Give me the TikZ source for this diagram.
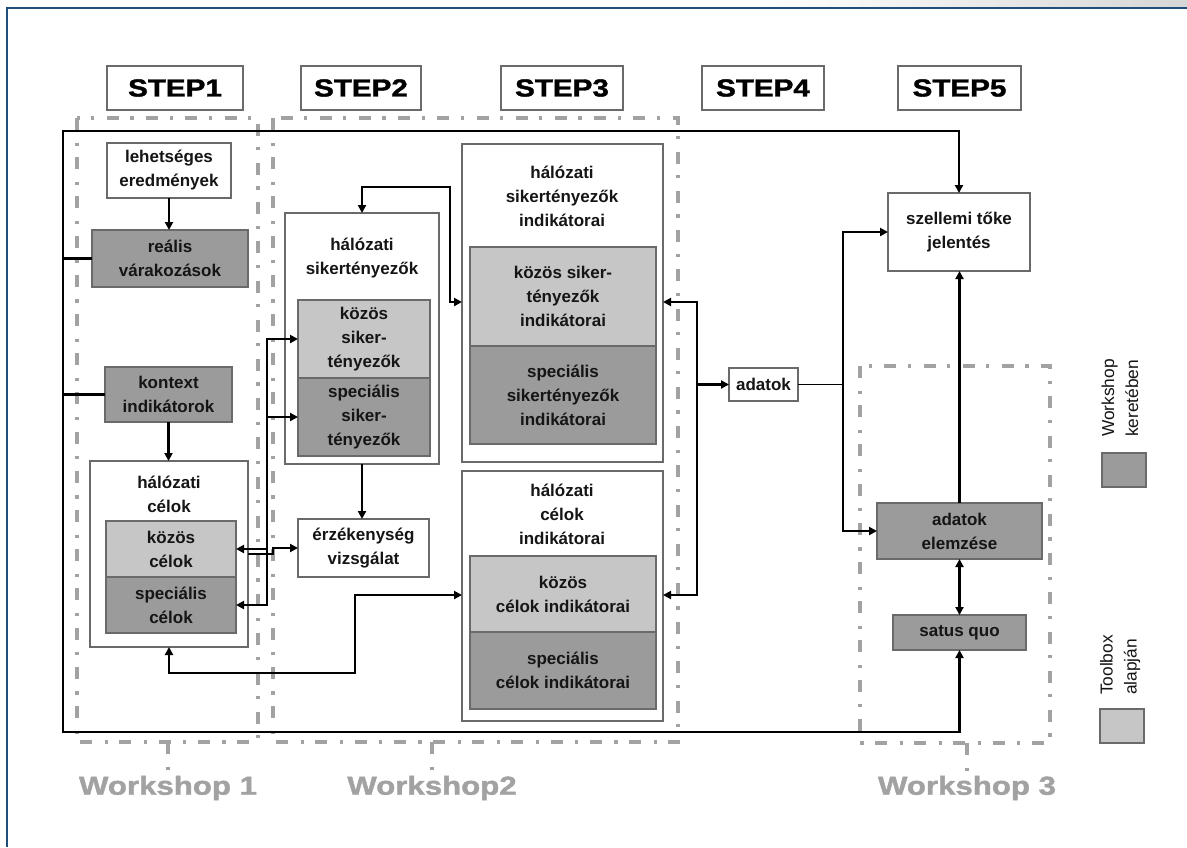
\documentclass[tikz,border=0pt]{standalone}
\usepackage{fontspec}
\setmainfont{Liberation Sans}
\newfontfamily\heavyfont{Liberation Sans}[FakeBold=1.5,FakeStretch=1.2]
\usetikzlibrary{arrows.meta}
\definecolor{frameblue}{HTML}{1E4E7C}
\definecolor{boxline}{HTML}{6A6A6A}
\definecolor{dk}{HTML}{9B9B9B}
\definecolor{lt}{HTML}{C6C6C6}
\definecolor{wsgray}{HTML}{A2A2A2}
\definecolor{txt}{HTML}{151515}
\begin{document}
\begin{tikzpicture}[x=0.75pt,y=-0.75pt,
  corners/.style n args={4}{at={({(#1+#3)/2},{(#2+#4)/2})},
    minimum width={(#3-#1)*0.75pt}, minimum height={(#4-#2)*0.75pt}},
  bx/.style={draw=boxline, line width=1pt, inner sep=0pt, outer sep=0pt, align=center, text=txt,
    font=\fontsize{12.75}{18}\selectfont\bfseries},
  wbox/.style={bx, fill=white},
  lbox/.style={bx, fill=lt},
  dbox/.style={bx, fill=dk},
  ttl/.style={align=center, text=txt, inner sep=0pt, font=\fontsize{12.75}{18}\selectfont\bfseries},
  stepbox/.style={draw=boxline, line width=1pt, inner sep=0pt, outer sep=0pt, fill=white, text=black,
    font=\heavyfont\bfseries\fontsize{18.5}{20}\selectfont},
  wslabel/.style={text=wsgray, inner sep=0pt, font=\heavyfont\bfseries\fontsize{19.5}{22}\selectfont},
  legtext/.style={align=left, text=txt, inner sep=0pt, font=\fontsize{13}{18}\selectfont},
  wsf/.style={draw=wsgray, line width=2.4pt, dash pattern=on 9pt off 9.5pt on 2.4pt off 8.5pt},
  conn/.style={draw=black, line width=1.9pt},
  arr/.style={conn, -{Triangle[length=6pt,width=6pt]}},
  dbl/.style={conn, {Triangle[length=6pt,width=6pt]}-{Triangle[length=6pt,width=6pt]}}
]
\useasboundingbox (0,0) rectangle (1187,847);
\fill[white] (0,0) rectangle (1187,847);
\shade[left color=white, right color=black!16] (760,0) rectangle (1187,7);
\draw[line width=2.2pt, frameblue] (7,847) -- (7,8) -- (1187,8);

% workshop frames
\draw[wsf] (77,118) rectangle (258,742);
\draw[wsf] (273,118) rectangle (678,742);
\draw[wsf] (860,366) rectangle (1050,743);
\draw[wsf] (168,742) -- (168,772);
\draw[wsf] (432,742) -- (432,772);
\draw[wsf] (967,743) -- (967,773);

% step headers
\node[stepbox, corners={107}{66}{243}{110}] (s1) {STEP1};
\node[stepbox, corners={301}{66}{421}{110}] (s2) {STEP2};
\node[stepbox, corners={501}{66}{623}{110}] (s3) {STEP3};
\node[stepbox, corners={702}{66}{824}{110}] (s4) {STEP4};
\node[stepbox, corners={898}{66}{1021}{110}] (s5) {STEP5};

% workshop labels
\node[wslabel] (w1) at (168,788) {Workshop 1};
\node[wslabel] (w2) at (432,788) {Workshop2};
\node[wslabel] (w3) at (967,788) {Workshop 3};

% STEP1 boxes
\node[wbox, corners={107}{143}{231}{198}] (leh) {lehetséges\\eredmények};
\node[dbox, corners={92}{230}{248}{287}] (real) {reális\\várakozások};
\node[dbox, corners={105}{367}{232}{422}] (kont) {kontext\\indikátorok};
\node[wbox, corners={90}{461}{248}{647}] (hc) {};
\node[ttl] (hct) at (169,494) {hálózati\\célok};
\node[lbox, corners={106}{521}{236}{577}] (kc) {közös\\célok};
\node[dbox, corners={106}{577}{236}{633}] (sc) {speciális\\célok};

% STEP2 boxes
\node[wbox, corners={285}{213}{439}{464}] (hsz) {};
\node[ttl] (hszt) at (362,258) {hálózati\\sikertényezők};
\node[lbox, corners={298}{300}{430}{378}] (ksz) {közös\\siker-\\tényezők};
\node[dbox, corners={298}{378}{430}{456}] (ssz) {speciális\\siker-\\tényezők};
\node[wbox, corners={298}{519}{429}{577}] (erz) {érzékenység\\vizsgálat};

% STEP3 boxes
\node[wbox, corners={462}{144}{663}{462}] (hsi) {};
\node[ttl] (hsit) at (562,196) {hálózati\\sikertényezők\\indikátorai};
\node[lbox, corners={470}{247}{656}{346}] (ksi) {közös siker-\\tényezők\\indikátorai};
\node[dbox, corners={470}{346}{656}{444}] (ssi) {speciális\\sikertényezők\\indikátorai};
\node[wbox, corners={462}{471}{663}{721}] (hci) {};
\node[ttl] (hcit) at (562,514) {hálózati\\célok\\indikátorai};
\node[lbox, corners={470}{556}{656}{632}] (kci) {közös\\célok indikátorai};
\node[dbox, corners={470}{632}{656}{709}] (sci) {speciális\\célok indikátorai};

% STEP4 / STEP5 boxes
\node[wbox, corners={729}{368}{798}{401}] (adat) {adatok};
\node[wbox, corners={888}{193}{1030}{271}] (szel) {szellemi tőke\\jelentés};
\node[dbox, corners={877}{503}{1042}{559}] (ae) {adatok\\elemzése};
\node[dbox, corners={893}{615}{1026}{650}] (sq) {satus quo};

% legend
\node[dbox, corners={1102}{453}{1146}{487}] (legd) {};
\node[lbox, corners={1100}{709}{1144}{743}] (legl) {};
\node[legtext, rotate=90] (legdt) at (1120,398) {Workshop\\keretében};
\node[legtext, rotate=90] (leglt) at (1120,665) {Toolbox\\alapján};

% helper coordinates
\coordinate (lt) at (63,131);
\coordinate (lb) at (63,732);
\coordinate (bx) at (267,0);
\coordinate (j1) at (248,554);
\coordinate (j2) at (273,554);
\coordinate (t1) at (450,187);
\coordinate (y302) at (0,302);
\coordinate (y595) at (0,595);
\coordinate (b1) at (355,673);
\coordinate (vx) at (697,0);
\coordinate (rx) at (843,0);

% main loop
\draw[dbl] (szel.north) |- (lt) -- (lb) -| (sq.south);
\draw[conn] (real.west) -- (real.west -| lt);
\draw[conn] (kont.west) -- (kont.west -| lt);

% step1 internal
\draw[arr] (leh.south) -- (leh.south |- real.north);
\draw[arr] (kont.south) -- (kont.south |- hc.north);

% bus between step1 and step2
\draw[dbl] (ksz.west) -| (bx |- sc.east) -- (sc.east);
\draw[arr] (bx |- ssz.west) -- (ssz.west);
\draw[arr] (bx |- kc.east) -- (kc.east);
\draw[arr] (j1) -- (j2) |- (erz.west);
\draw[arr] (hsz.south) -- (hsz.south |- erz.north);

% step2 <-> step3
\draw[dbl] (hsz.north) |- (t1) |- (hsi.west |- y302);
\draw[dbl] (hc.south) |- (b1) |- (hci.west |- y595);

% step3 <-> adatok
\draw[dbl] (hsi.east |- y302) -| (vx |- y595) -- (hci.east |- y595);
\draw[arr] (vx |- adat.west) -- (adat.west);
\draw[conn, line width=1.4pt] (adat.east) -- (rx |- adat.east);
\draw[dbl] (szel.west) -| (rx |- ae.west) -- (ae.west);

% step5
\draw[arr] (ae.north) -- (ae.north |- szel.south);
\draw[dbl] (ae.south) -- (ae.south |- sq.north);
\end{tikzpicture}
\end{document}
